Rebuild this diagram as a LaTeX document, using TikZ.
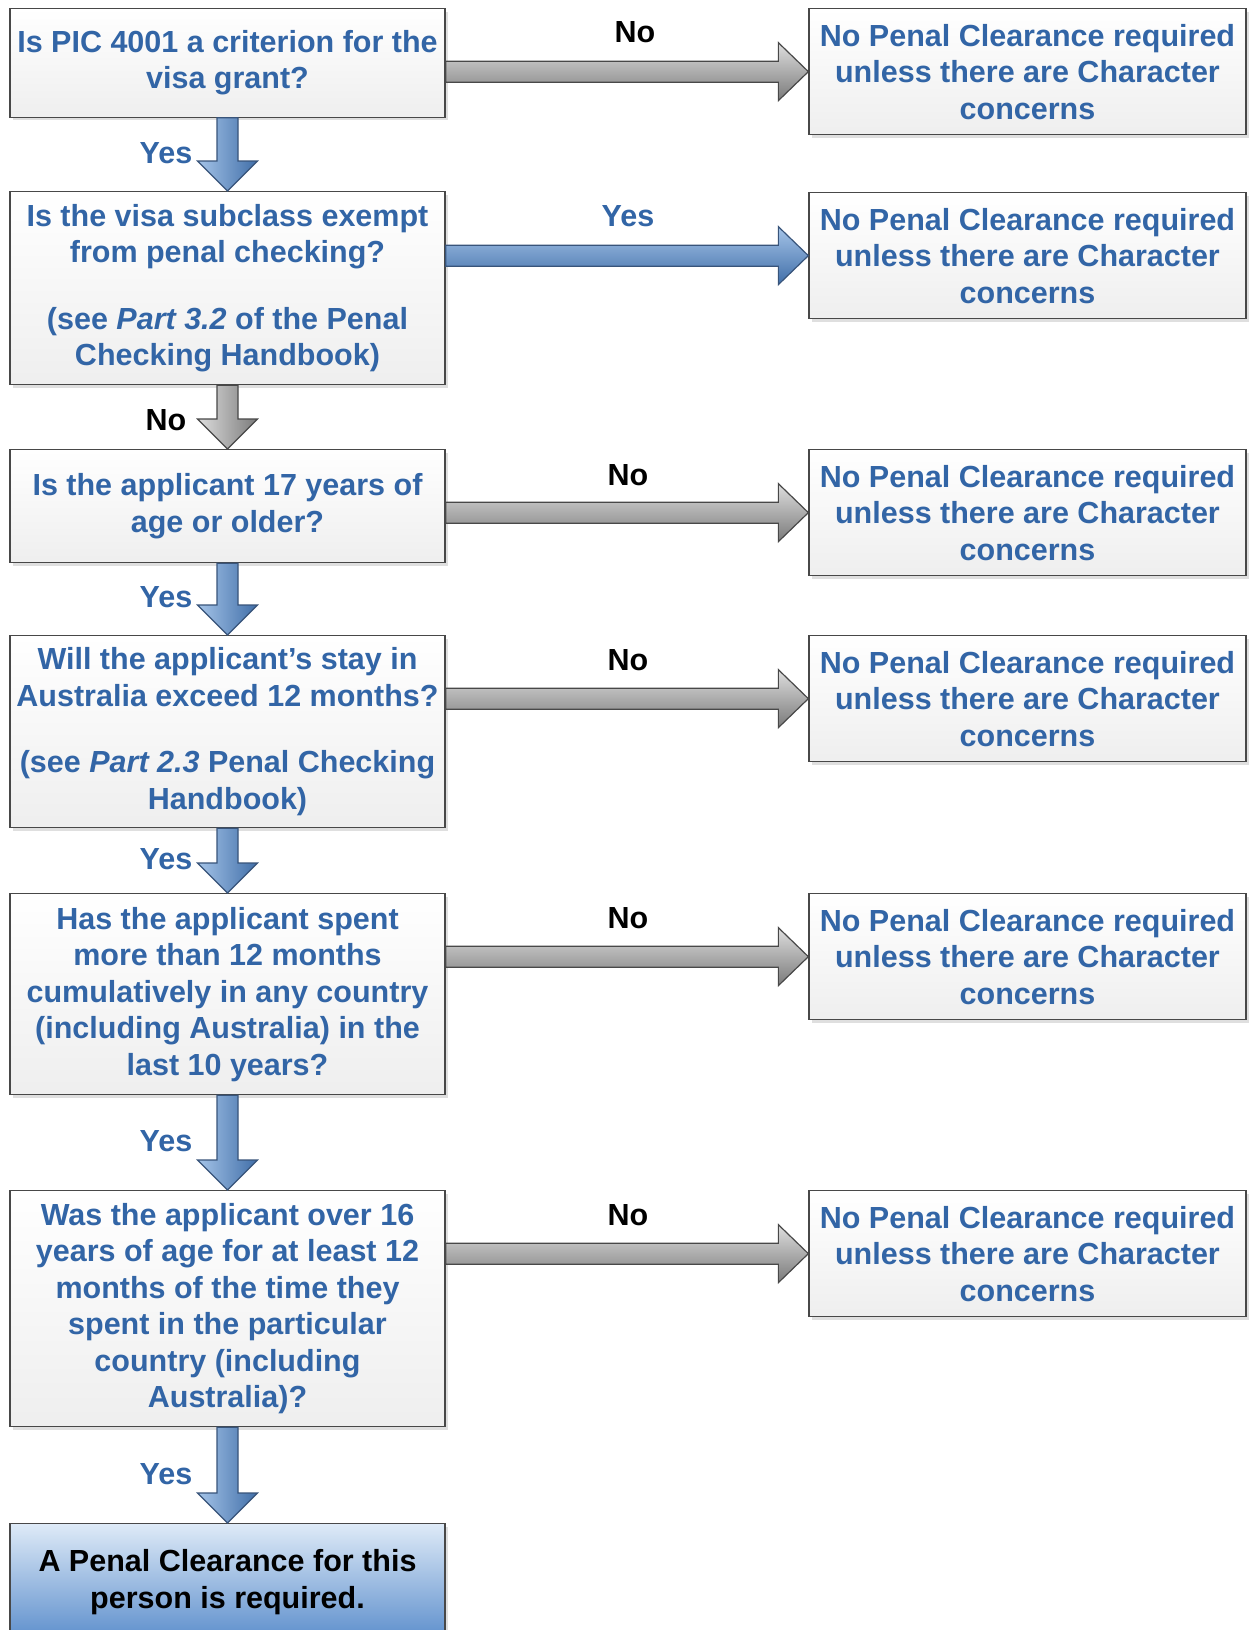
\documentclass[tikz,border=0pt]{standalone}
\usepackage{fontspec}
\setmainfont{Liberation Sans}
\usetikzlibrary{calc,shadows}

\definecolor{azultexto}{RGB}{50,101,166}
\definecolor{azulclaro}{RGB}{165,196,232}
\definecolor{azulmedio}{RGB}{108,152,206}
\definecolor{azulescuro}{RGB}{64,110,168}
\definecolor{azulborda}{RGB}{56,84,122}
\definecolor{cinzaclaro}{RGB}{222,222,222}
\definecolor{cinzamedio}{RGB}{172,172,172}
\definecolor{cinzaescuro}{RGB}{122,122,122}
\definecolor{cinzaborda}{RGB}{72,72,72}
\definecolor{fimtopo}{RGB}{222,234,247}
\definecolor{fimbase}{RGB}{92,142,204}

% seta larga: da caixa #1 para a caixa #2
\newcommand{\setadir}[3]{%
  \coordinate (ra) at (#1.east |- #2.west);
  \coordinate (rb) at (#2.west);
  \path[#3] ($(ra)+(0,-10.5)$) -- ($(rb)+(-30,-10.5)$) -- ($(rb)+(-30,-29)$) -- (rb)
    -- ($(rb)+(-30,29)$) -- ($(rb)+(-30,10.5)$) -- ($(ra)+(0,10.5)$) -- cycle;}
\newcommand{\setabaixo}[3]{%
  \coordinate (ra) at (#1.south);
  \coordinate (rb) at (#2.north);
  \path[#3] ($(ra)+(-10.5,0)$) -- ($(rb)+(-10.5,-30)$) -- ($(rb)+(-30,-30)$) -- (rb)
    -- ($(rb)+(30,-30)$) -- ($(rb)+(10.5,-30)$) -- ($(ra)+(10.5,0)$) -- cycle;}

\begin{document}
\begin{tikzpicture}[x=1pt, y=-1pt]
  \tikzstyle{caixa}=[rectangle, draw=cinzaborda, line width=1.3pt, anchor=north, align=center,
                     inner xsep=2pt, top color=white, bottom color=gray!13,
                     font=\fontsize{30.5}{36.5}\selectfont\bfseries,
                     drop shadow={shadow xshift=3pt, shadow yshift=-3pt, opacity=0.25}]
  \tikzstyle{pergunta}=[caixa, minimum width=435pt, text=azultexto]
  \tikzstyle{resposta}=[caixa, minimum width=437pt, minimum height=126pt, text=azultexto]
  \tikzstyle{fim}=[caixa, minimum width=435pt, text=black, top color=fimtopo, bottom color=fimbase]
  \tikzstyle{sim}=[font=\fontsize{30.5}{36.5}\selectfont\bfseries, text=azultexto]
  \tikzstyle{nao}=[font=\fontsize{30.5}{36.5}\selectfont\bfseries, text=black]
  \tikzstyle{setaazul}=[draw=azulborda, line width=1.2pt, line join=miter,
                        top color=azulclaro, middle color=azulmedio, bottom color=azulescuro]
  \tikzstyle{setaazulv}=[draw=azulborda, line width=1.2pt, line join=miter,
                         left color=azulclaro, middle color=azulmedio, right color=azulescuro]
  \tikzstyle{setacinza}=[draw=cinzaborda, line width=1.2pt, line join=miter,
                         top color=cinzaclaro, middle color=cinzamedio, bottom color=cinzaescuro]
  \tikzstyle{setacinzav}=[draw=cinzaborda, line width=1.2pt, line join=miter,
                          left color=cinzaclaro, middle color=cinzamedio, right color=cinzaescuro]

  \fill[white] (0,0) rectangle (1249,1630);
  \useasboundingbox (0,0) rectangle (1249,1630);

  \node[pergunta, minimum height=108.5pt] (q1) at (227.5,8) {Is PIC 4001 a criterion for the\\visa grant?};
  \node[pergunta, minimum height=193pt] (q2) at (227.5,191) {Is the visa subclass exempt\\from penal checking?\\[30pt](see \textit{Part 3.2} of the Penal\\Checking Handbook)};
  \node[pergunta, minimum height=113pt] (q3) at (227.5,449) {Is the applicant 17 years of\\age or older?};
  \node[pergunta, minimum height=192pt] (q4) at (227.5,635) {Will the applicant’s stay in\\Australia exceed 12 months?\\[30pt](see \textit{Part 2.3} Penal Checking\\Handbook)};
  \node[pergunta, minimum height=201pt] (q5) at (227.5,893) {Has the applicant spent\\more than 12 months\\cumulatively in any country\\(including Australia) in the\\last 10 years?};
  \node[pergunta, minimum height=236pt] (q6) at (227.5,1190) {Was the applicant over 16\\years of age for at least 12\\months of the time they\\spent in the particular\\country (including\\Australia)?};
  \node[fim, minimum height=117pt] (req) at (227.5,1523) {A Penal Clearance for this\\person is required.};

  \node[resposta] (n1) at (1027.5,8) {No Penal Clearance required\\unless there are Character\\concerns};
  \node[resposta] (n2) at (1027.5,192) {No Penal Clearance required\\unless there are Character\\concerns};
  \node[resposta] (n3) at (1027.5,449) {No Penal Clearance required\\unless there are Character\\concerns};
  \node[resposta] (n4) at (1027.5,635) {No Penal Clearance required\\unless there are Character\\concerns};
  \node[resposta] (n5) at (1027.5,893) {No Penal Clearance required\\unless there are Character\\concerns};
  \node[resposta] (n6) at (1027.5,1190) {No Penal Clearance required\\unless there are Character\\concerns};

  \setadir{q1}{n1}{setacinza}
  \setadir{q2}{n2}{setaazul}
  \setadir{q3}{n3}{setacinza}
  \setadir{q4}{n4}{setacinza}
  \setadir{q5}{n5}{setacinza}
  \setadir{q6}{n6}{setacinza}

  \setabaixo{q1}{q2}{setaazulv}
  \setabaixo{q2}{q3}{setacinzav}
  \setabaixo{q3}{q4}{setaazulv}
  \setabaixo{q4}{q5}{setaazulv}
  \setabaixo{q5}{q6}{setaazulv}
  \setabaixo{q6}{req}{setaazulv}

  \node[nao] (l1) at (635,32) {No};
  \node[sim] (l2) at (628,216) {Yes};
  \node[nao] (l3) at (628,475) {No};
  \node[nao] (l4) at (628,660) {No};
  \node[nao] (l5) at (628,918) {No};
  \node[nao] (l6) at (628,1215) {No};

  \node[sim] (v1) at (166,153) {Yes};
  \node[nao] (v2) at (166,420) {No};
  \node[sim] (v3) at (166,597) {Yes};
  \node[sim] (v4) at (166,859) {Yes};
  \node[sim] (v5) at (166,1141) {Yes};
  \node[sim] (v6) at (166,1474) {Yes};
\end{tikzpicture}
\end{document}
